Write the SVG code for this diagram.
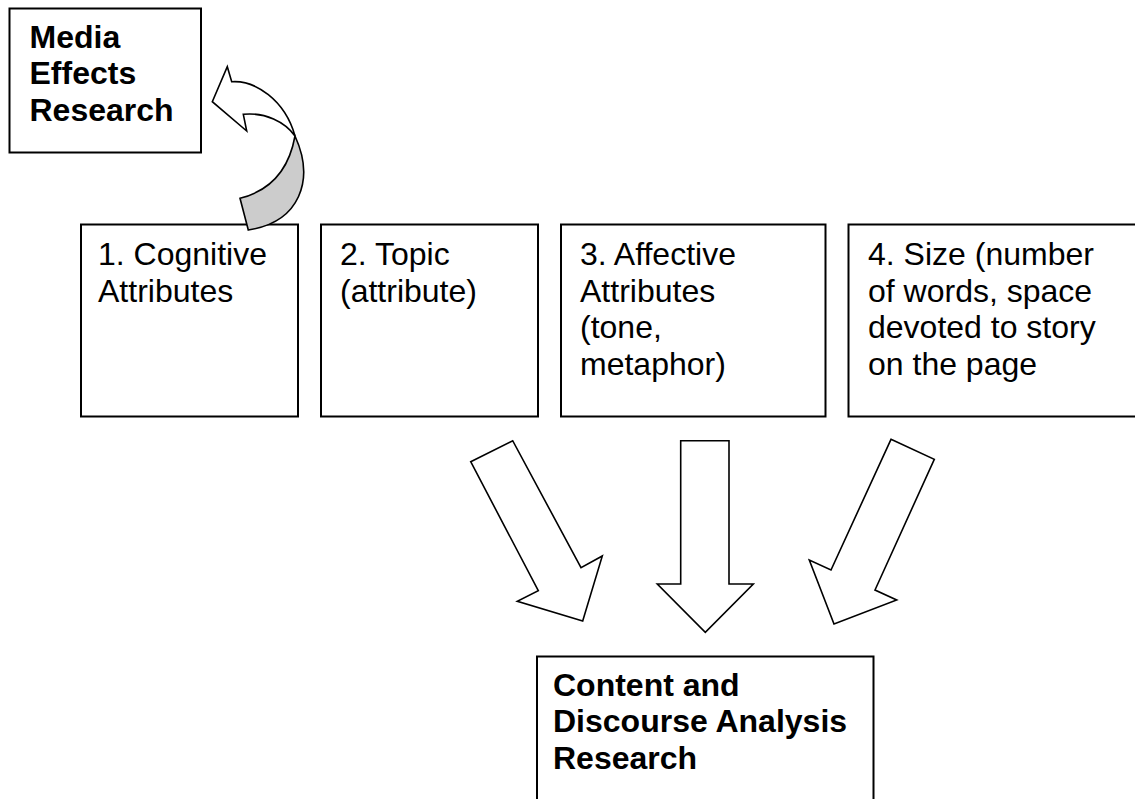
<svg xmlns="http://www.w3.org/2000/svg" width="1135" height="799" viewBox="0 0 1135 799">
<style>
.box{fill:#fff;stroke:#000;stroke-width:2}
.t{font-family:"Liberation Sans",Arial,sans-serif;font-size:32px;fill:#000}
.b{font-weight:bold}
.arr{fill:#fff;stroke:#000;stroke-width:1.6;stroke-linejoin:miter}
.back{fill:#cccccc;stroke:#000;stroke-width:1.6}
</style>
<rect width="1135" height="799" fill="#fff"/>
<g id="media-effects">
<rect class="box" x="9.5" y="8.5" width="191.5" height="144"/>
<text class="t b" x="29.5"><tspan x="29.5" y="47.7">Media</tspan><tspan x="29.5" y="84.4">Effects</tspan><tspan x="29.5" y="121.1">Research</tspan></text>
</g>
<g id="cognitive">
<rect class="box" x="81" y="224.5" width="217" height="192"/>
<text class="t" x="98"><tspan x="98" y="265">1. Cognitive</tspan><tspan x="98" y="301.7">Attributes</tspan></text>
</g>
<g id="topic">
<rect class="box" x="321" y="224.5" width="217" height="192"/>
<text class="t" x="340"><tspan x="340" y="265">2. Topic</tspan><tspan x="340" y="301.7">(attribute)</tspan></text>
</g>
<g id="affective">
<rect class="box" x="561" y="224.5" width="264.5" height="192"/>
<text class="t" x="580"><tspan x="580" y="265">3. Affective</tspan><tspan x="580" y="301.7">Attributes</tspan><tspan x="580" y="338.4">(tone,</tspan><tspan x="580" y="375">metaphor)</tspan></text>
</g>
<g id="size">
<rect class="box" x="848.5" y="224.5" width="300" height="192"/>
<text class="t" x="868"><tspan x="868" y="265">4. Size (number</tspan><tspan x="868" y="301.7">of words, space</tspan><tspan x="868" y="338.4">devoted to story</tspan><tspan x="868" y="375">on the page</tspan></text>
</g>
<g id="content-discourse">
<rect class="box" x="537" y="656.5" width="336.5" height="160"/>
<text class="t b" x="553"><tspan x="553" y="695.7">Content and</tspan><tspan x="553" y="732.4">Discourse Analysis</tspan><tspan x="553" y="769">Research</tspan></text>
</g>
<g id="connectors">
<path class="back" d="M295,136 C315,180 300,222 248.3,230 L240,198.3 C265,192 288,175 295,136 Z"/>
<path class="arr" d="M231.7,81.7 C255,80 285,100 295,136 C285,122 265,112 243.3,114.3 L246.7,131 L212.3,101.7 L227.3,66.7 Z"/>
<polygon class="arr" points="470.7,461.7 512.7,440.7 581,567.7 602.3,556 582.7,621 517.3,601.3 538.3,590.7"/>
<polygon class="arr" points="680.7,440.7 729,440.7 729,584 753.3,584 705.3,632.3 657.3,584 680.7,584"/>
<polygon class="arr" points="891,439.3 934.3,459.3 875,590 896.7,600 834,624 809.3,560 831,570"/>
</g>
</svg>
